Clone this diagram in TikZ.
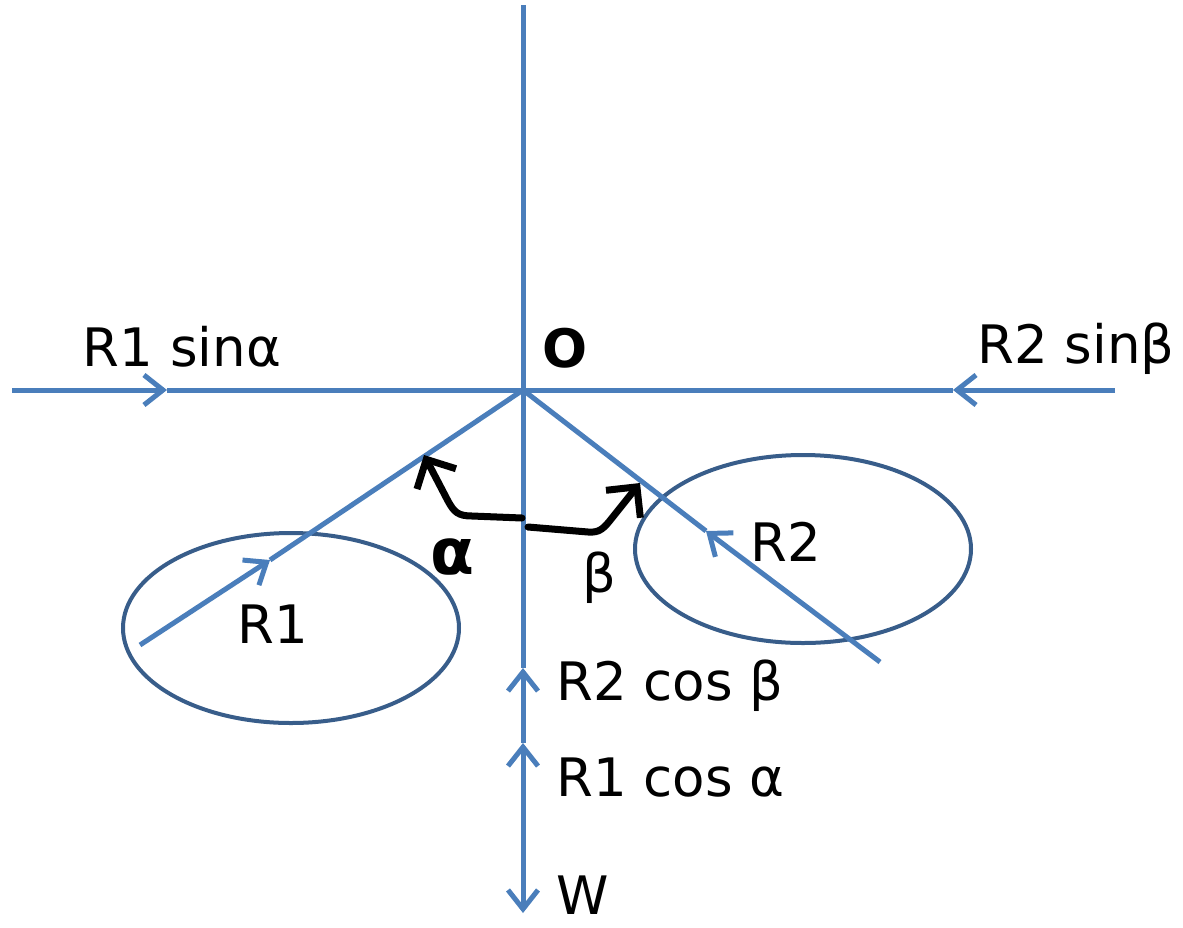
\documentclass[tikz,border=0pt]{standalone}
\usepackage{fontspec}
\setmainfont{DejaVu Sans}
\usetikzlibrary{arrows.meta}

\definecolor{forceblue}{RGB}{74,126,187}
\definecolor{ringblue}{RGB}{56,93,138}

\begin{document}
\begin{tikzpicture}[
  x=1pt, y=-1pt,
  every node/.style={font=\fontsize{53}{62}\selectfont, inner sep=0pt},
  force/.style={draw=forceblue, line width=5pt},
  barb/.style={-{Straight Barb[length=19pt, width=30pt, line width=5pt]}},
  ring/.style={draw=ringblue, line width=4pt},
  turn/.style={draw=black, line width=7pt, line cap=round, line join=round,
    -{Straight Barb[length=22pt, width=44pt, line width=7pt]}}
]
\useasboundingbox (0,0) rectangle (1183,927);

% points of the frame
\coordinate (O) at (523,390);
\coordinate (top) at (523,5);
\coordinate (bot) at (523,913);
\coordinate (west) at (12,390);
\coordinate (east) at (1115,390);
\coordinate (foot1) at (140,645);
\coordinate (foot2) at (880,662);
\coordinate (h1) at (167,390);
\coordinate (h2) at (953,390);
\coordinate (m1) at (270,560);
\coordinate (m2) at (706,531);
\coordinate (v2) at (523,668);
\coordinate (v1) at (523,743);
\coordinate (v0) at (523,820);

% the two bodies
\draw[ring] (291,628) ellipse [x radius=168, y radius=95];
\draw[ring] (803,549) ellipse [x radius=168, y radius=94];

% horizontal and vertical lines
\draw[force, barb] (west) -- (h1);
\draw[force] (h1) -- (h2);
\draw[force, barb] (east) -- (h2);
\draw[force] (top) -- (v2);
\draw[force, barb] (v1) -- (v2);
\draw[force, barb] (v0) -- (v1);
\draw[force, barb] (v0) -- (bot);

% reactions
\draw[force, barb] (foot1) -- (m1);
\draw[force] (m1) -- (O);
\draw[force, barb] (foot2) -- (m2);
\draw[force] (m2) -- (O);

% angle arrows
\draw[turn] (522,518) -- (472,516) .. controls (458,516) and (454,512) .. (448,501) -- (424,455);
\draw[turn] (528,527) -- (588,532) .. controls (600,533) and (604,528) .. (612,518) -- (640,483);

% labels
\node (lo) at (565,348) {\bfseries O};
\node (lsa) at (182,347) {R1 sinα};
\node (lsb) at (1076,349) {R2 sinβ};
\node (lr1) at (273,624) {R1};
\node (lr2) at (786,542) {R2};
\node (la) at (452,557) {\fontsize{64}{70}\selectfont\bfseries α};
\node (lb) at (599,578) {β};
\node[anchor=west] (lcb) at (556,686) {R2 cos β};
\node[anchor=west] (lca) at (556,778) {R1 cos α};
\node[anchor=west] (lw) at (556,895) {W};
\end{tikzpicture}
\end{document}
